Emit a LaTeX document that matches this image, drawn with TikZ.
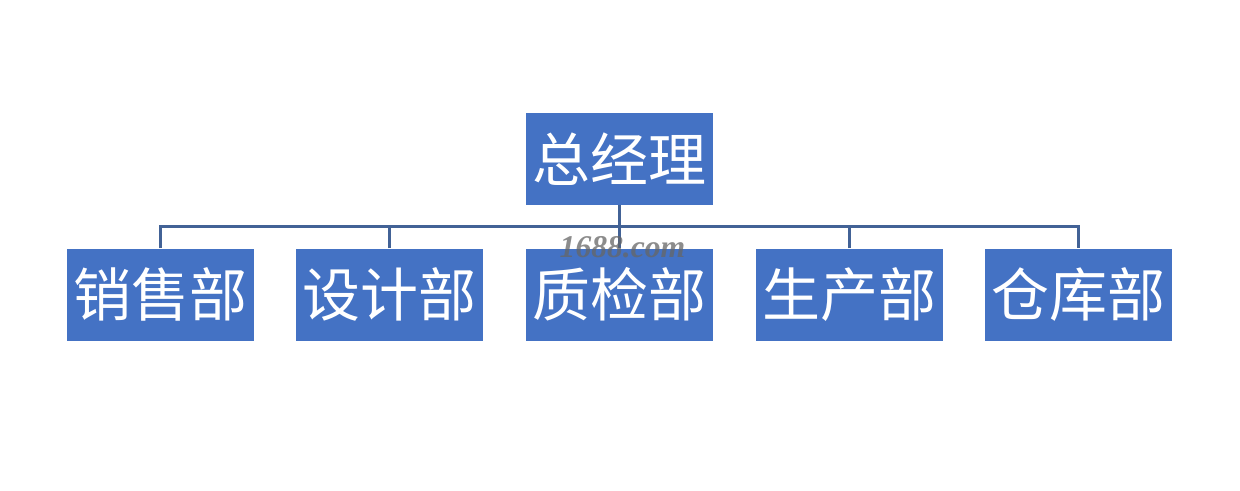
\documentclass[tikz,border=0pt]{standalone}
\usepackage{fontspec}
\usepackage{xcolor}
\usepackage{tikz}
\usetikzlibrary{
  positioning,
  calc
}
\newfontfamily\cjkfont{Noto Sans CJK SC}
\newfontfamily\markfont{Liberation Serif}
\definecolor{BoxBlue}{RGB}{68, 114, 196}
\definecolor{LineBlue}{RGB}{66, 98, 150}
\tikzset{
  dept/.style={rectangle, fill=BoxBlue, minimum width=3.74cm, minimum height=1.84cm,
    inner sep=0pt, text=white, font=\cjkfont\fontsize{33}{36}\selectfont},
  conn/.style={draw=LineBlue, line width=1.7pt}
}

\begin{document}
\begin{tikzpicture}
            \useasboundingbox[fill=white] (0,0) rectangle (24.8,-9.82);
            % top and second level
            \node[dept] (boss) at (12.39,-3.18) {总经理};
            \node[dept, below=0.86cm of boss] (zhijian) {质检部};
            \node[dept, left=0.84cm of zhijian] (sheji) {设计部};
            \node[dept, left=0.84cm of sheji] (xiaoshou) {销售部};
            \node[dept, right=0.84cm of zhijian] (shengchan) {生产部};
            \node[dept, right=0.84cm of shengchan] (cangku) {仓库部};
            \coordinate (bus) at ($(boss.south)!0.5!(zhijian.north)$);
            % connectors
            \draw[conn] (boss.south) -- (zhijian.north);
            \draw[conn] (xiaoshou.north) |- (bus) -| (cangku.north);
            \draw[conn] (sheji.north) -- (sheji.north |- bus);
            \draw[conn] (shengchan.north) -- (shengchan.north |- bus);
            % watermark
            \node[text=gray!80!black, opacity=0.75, font=\markfont\bfseries\itshape\fontsize{18}{20}\selectfont] (mark) at (12.45,-4.94) {1688.com};
        \end{tikzpicture}
\end{document}
